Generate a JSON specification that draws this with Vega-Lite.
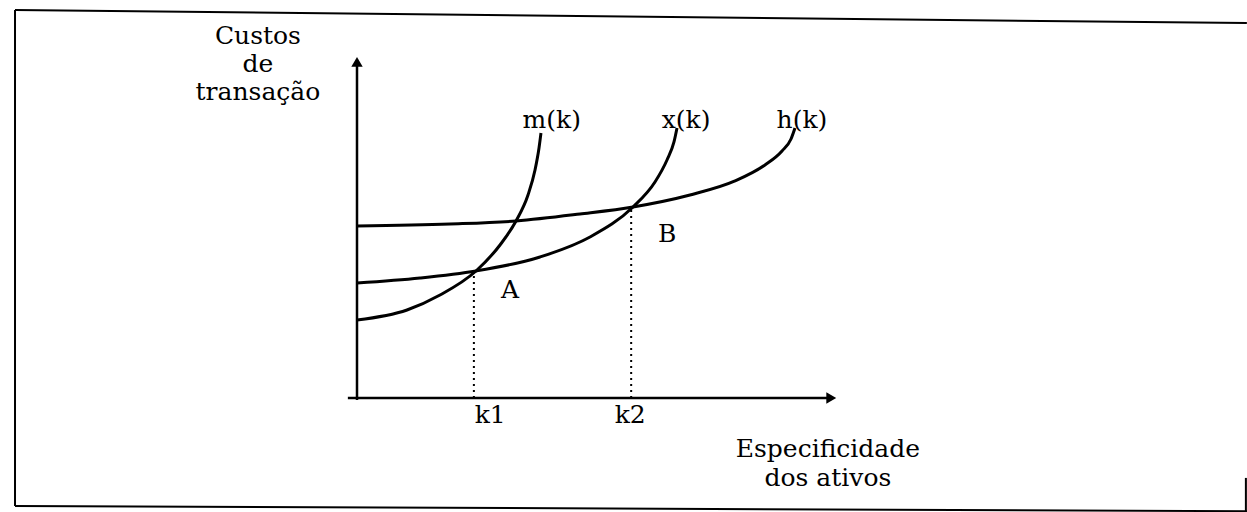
{
  "$schema": "https://vega.github.io/schema/vega-lite/v6.json",
  "width": 481,
  "height": 343,
  "autosize": "none",
  "padding": {"left": 357, "top": 55, "right": 409, "bottom": 114},
  "background": "white",
  "config": {"view": {"stroke": null}},
  "datasets": {
    "curves": [
      {"curve": "m(k)", "k": 0, "cost": 2.274},
      {"curve": "m(k)", "k": 1.04, "cost": 2.566},
      {"curve": "m(k)", "k": 1.726, "cost": 3.003},
      {"curve": "m(k)", "k": 2.474, "cost": 3.703},
      {"curve": "m(k)", "k": 2.973, "cost": 4.461},
      {"curve": "m(k)", "k": 3.306, "cost": 5.16},
      {"curve": "m(k)", "k": 3.555, "cost": 5.918},
      {"curve": "m(k)", "k": 3.701, "cost": 6.647},
      {"curve": "m(k)", "k": 3.784, "cost": 7.289},
      {"curve": "m(k)", "k": 3.825, "cost": 7.726},
      {"curve": "x(k)", "k": 0, "cost": 3.353},
      {"curve": "x(k)", "k": 1.31, "cost": 3.499},
      {"curve": "x(k)", "k": 2.474, "cost": 3.703},
      {"curve": "x(k)", "k": 3.805, "cost": 4.111},
      {"curve": "x(k)", "k": 4.844, "cost": 4.694},
      {"curve": "x(k)", "k": 5.738, "cost": 5.569},
      {"curve": "x(k)", "k": 6.195, "cost": 6.297},
      {"curve": "x(k)", "k": 6.445, "cost": 6.939},
      {"curve": "x(k)", "k": 6.59, "cost": 7.464},
      {"curve": "x(k)", "k": 6.653, "cost": 7.872},
      {"curve": "h(k)", "k": 0, "cost": 5.015},
      {"curve": "h(k)", "k": 1.933, "cost": 5.073},
      {"curve": "h(k)", "k": 3.306, "cost": 5.16},
      {"curve": "h(k)", "k": 4.636, "cost": 5.364},
      {"curve": "h(k)", "k": 5.738, "cost": 5.569},
      {"curve": "h(k)", "k": 6.923, "cost": 5.918},
      {"curve": "h(k)", "k": 7.859, "cost": 6.327},
      {"curve": "h(k)", "k": 8.482, "cost": 6.793},
      {"curve": "h(k)", "k": 8.836, "cost": 7.201},
      {"curve": "h(k)", "k": 9.023, "cost": 7.551},
      {"curve": "h(k)", "k": 9.106, "cost": 7.872}
    ],
    "frame": [
      {"x": -7.11, "y": 11.31, "x2": 18.5, "y2": 10.93},
      {"x": -7.11, "y": 11.31, "x2": -7.11, "y2": -3.15},
      {"x": -7.11, "y": -3.15, "x2": 18.5, "y2": -3.3},
      {"x": 18.48, "y": -2.33, "x2": 18.48, "y2": -3.35}
    ],
    "axes": [
      {"x": -0.19, "y": 0, "x2": 9.8, "y2": 0},
      {"x": 0, "y": -0.06, "x2": 0, "y2": 9.75}
    ],
    "arrows": [
      {"x": 9.86, "y": 0, "dir": "right"},
      {"x": 0, "y": 9.8, "dir": "up"}
    ],
    "guides": [
      {"x": 2.43, "y": 0, "y2": 3.703},
      {"x": 5.7, "y": 0, "y2": 5.569}
    ],
    "labels": [
      {"text": "Custos", "x": -2.06, "y": 10.32},
      {"text": "de", "x": -2.06, "y": 9.5},
      {"text": "transação", "x": -2.06, "y": 8.69},
      {"text": "m(k)", "x": 4.05, "y": 7.87},
      {"text": "x(k)", "x": 6.84, "y": 7.87},
      {"text": "h(k)", "x": 9.25, "y": 7.87},
      {"text": "A", "x": 3.18, "y": 2.92},
      {"text": "B", "x": 6.45, "y": 4.55},
      {"text": "k1", "x": 2.77, "y": -0.73},
      {"text": "k2", "x": 5.68, "y": -0.73},
      {"text": "Especificidade", "x": 9.79, "y": -1.72},
      {"text": "dos ativos", "x": 9.79, "y": -2.58}
    ]
  },
  "layer": [
    {
      "data": {"name": "frame"},
      "mark": {"type": "rule", "color": "black", "strokeWidth": 2},
      "encoding": {
        "x": {"field": "x", "type": "quantitative", "scale": {"domain": [0, 10], "nice": false, "zero": false}, "axis": null},
        "y": {"field": "y", "type": "quantitative", "scale": {"domain": [0, 10], "nice": false, "zero": false}, "axis": null},
        "x2": {"field": "x2"},
        "y2": {"field": "y2"}
      }
    },
    {
      "data": {"name": "axes"},
      "mark": {"type": "rule", "color": "black", "strokeWidth": 2.5},
      "encoding": {
        "x": {"field": "x", "type": "quantitative"},
        "y": {"field": "y", "type": "quantitative"},
        "x2": {"field": "x2"},
        "y2": {"field": "y2"}
      }
    },
    {
      "data": {"name": "arrows"},
      "transform": [{"filter": "datum.dir === 'right'"}],
      "mark": {"type": "point", "shape": "triangle-right", "filled": true, "size": 130, "color": "black", "opacity": 1},
      "encoding": {
        "x": {"field": "x", "type": "quantitative"},
        "y": {"field": "y", "type": "quantitative"}
      }
    },
    {
      "data": {"name": "arrows"},
      "transform": [{"filter": "datum.dir === 'up'"}],
      "mark": {"type": "point", "shape": "triangle-up", "filled": true, "size": 130, "color": "black", "opacity": 1},
      "encoding": {
        "x": {"field": "x", "type": "quantitative"},
        "y": {"field": "y", "type": "quantitative"}
      }
    },
    {
      "data": {"name": "guides"},
      "mark": {"type": "rule", "color": "black", "strokeWidth": 2, "strokeDash": [2, 4]},
      "encoding": {
        "x": {"field": "x", "type": "quantitative"},
        "y": {"field": "y", "type": "quantitative"},
        "y2": {"field": "y2"}
      }
    },
    {
      "data": {"name": "curves"},
      "mark": {"type": "line", "color": "black", "strokeWidth": 3, "interpolate": "monotone"},
      "encoding": {
        "x": {"field": "k", "type": "quantitative"},
        "y": {"field": "cost", "type": "quantitative"},
        "detail": {"field": "curve"},
        "order": {"field": "k"}
      }
    },
    {
      "data": {"name": "labels"},
      "mark": {"type": "text", "font": "DejaVu Serif", "fontSize": 25, "align": "center", "baseline": "alphabetic", "color": "black"},
      "encoding": {
        "x": {"field": "x", "type": "quantitative"},
        "y": {"field": "y", "type": "quantitative"},
        "text": {"field": "text"}
      }
    }
  ]
}
